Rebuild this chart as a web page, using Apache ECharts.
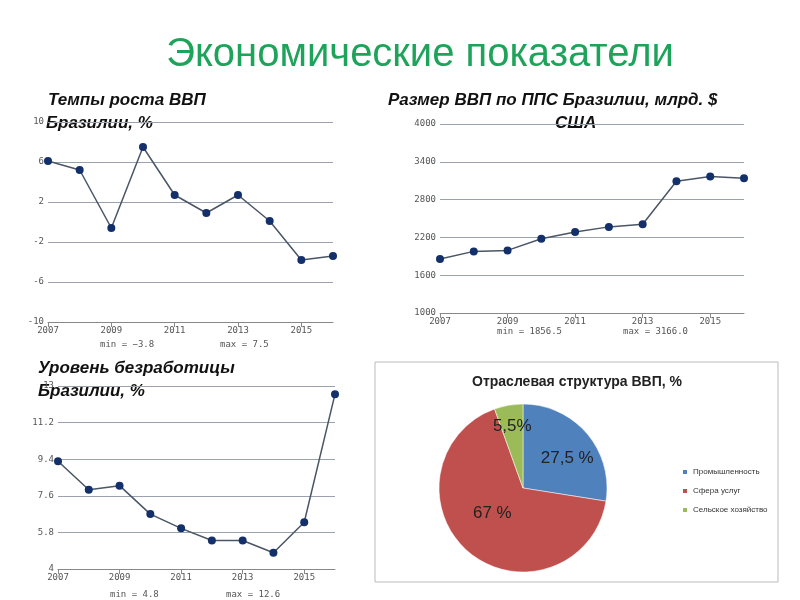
<!DOCTYPE html>
<html>
<head>
<meta charset="utf-8">
<script src="https://cdn.jsdelivr.net/npm/echarts@6/dist/echarts.min.js"></script>
<style>html,body{margin:0;background:#fff}#main{width:800px;height:600px}</style>
</head>
<body>
<div id="main"></div>
<script>
var chart = echarts.init(document.getElementById('main'));

// данные
var years = ['2007','2008','2009','2010','2011','2012','2013','2014','2015','2016'];
var gdpGrowth = [6.1, 5.2, -0.6, 7.5, 2.7, 0.9, 2.7, 0.1, -3.8, -3.4];
var gdpPpp = [1856.5, 1978, 1994, 2178, 2286, 2367, 2410, 3090, 3166, 3139];
var unemployment = [9.3, 7.9, 8.1, 6.7, 6.0, 5.4, 5.4, 4.8, 6.3, 12.6];
var pieNames = ['Промышленность', 'Сфера услуг', 'Сельское хозяйство'];
var pieValues = [27.5, 67, 5.5];
var pieLabels = ['27,5 %', '67 %', '5,5%'];

var mono = 'DejaVu Sans Mono';
var labelShift = [[10, 0], [-2, -9], [-3, -17]];

function xAx(idx) {
    return {
        type: 'category', gridIndex: idx, data: years, boundaryGap: false,
        axisLine: { onZero: false, lineStyle: { color: '#888' } },
        axisTick: { show: true, interval: 1, lineStyle: { color: '#888' } },
        axisLabel: { interval: 1, color: '#555', fontSize: 9, fontFamily: mono, margin: 4 }
    };
}
function yAx(idx, min, max, step) {
    return {
        type: 'value', gridIndex: idx, min: min, max: max, interval: step,
        axisLine: { show: false }, axisTick: { show: false },
        axisLabel: { color: '#555', fontSize: 9, fontFamily: mono, margin: 4,
            formatter: function (v) { return String(Math.round(v * 10) / 10); } },
        splitLine: { lineStyle: { color: '#9aa3ad', width: 1 } }
    };
}
function lineSeries(idx, data) {
    return {
        type: 'line', xAxisIndex: idx, yAxisIndex: idx, data: data,
        symbol: 'circle', symbolSize: 8,
        lineStyle: { color: '#4a5566', width: 1.5 },
        itemStyle: { color: '#13306a' }
    };
}
function txt(x, y, s, style) {
    return { type: 'text', left: x, top: y, style: Object.assign({ text: s }, style) };
}
var sub = { fontSize: 17, fontWeight: 'bold', fontStyle: 'italic', fontFamily: 'Liberation Sans', fill: '#111' };
var small = { fontSize: 9, fontFamily: mono, fill: '#555' };

option = {
    animation: false,
    grid: [
        { left: 48, width: 285, top: 122, height: 200 },
        { left: 440, width: 304, top: 124, height: 189 },
        { left: 58, width: 277, top: 386, height: 183 }
    ],
    xAxis: [xAx(0), xAx(1), xAx(2)],
    yAxis: [yAx(0, -10, 10, 4), yAx(1, 1000, 4000, 600), yAx(2, 4, 13, 1.8)],
    series: [
        lineSeries(0, gdpGrowth),
        lineSeries(1, gdpPpp),
        lineSeries(2, unemployment),
        {
            type: 'pie', center: [523, 488], radius: 84, startAngle: 90,
            data: pieNames.map(function (n, i) {
                return { name: n, value: pieValues[i], label: { offset: labelShift[i] } };
            }),
            color: ['#4f81bd', '#c0504d', '#9bbb59'],
            label: {
                position: 'inside', fontSize: 17, fontFamily: 'Liberation Sans', color: '#222',
                formatter: function (p) { return pieLabels[p.dataIndex]; }
            },
            itemStyle: { borderColor: '#fff', borderWidth: 0.5 }
        }
    ],
    legend: {
        left: 676, top: 463, orient: 'vertical', itemWidth: 6, itemHeight: 6, itemGap: 11,
        icon: 'rect', textStyle: { fontSize: 8, color: '#333' }, data: pieNames
    },
    graphic: [
        { type: 'rect', shape: { x: 375, y: 362, width: 403, height: 220 }, style: { fill: 'none', stroke: '#bbb', lineWidth: 1 } },
        { type: 'text', x: 420, y: 55, style: { text: 'Экономические показатели', fontSize: 40, fontFamily: 'Liberation Sans', fill: '#1ea35a', align: 'center', verticalAlign: 'middle' } },
        txt(48, 92, 'Темпы роста ВВП', sub),
        txt(46, 115, 'Бразилии, %', sub),
        txt(388, 92, 'Размер ВВП по ППС Бразилии, млрд. $', sub),
        txt(555, 115, 'США', sub),
        txt(38, 360, 'Уровень безработицы', sub),
        txt(38, 383, 'Бразилии, %', sub),
        txt(100, 340, 'min = −3.8', small),
        txt(220, 340, 'max = 7.5', small),
        txt(497, 327, 'min = 1856.5', small),
        txt(623, 327, 'max = 3166.0', small),
        txt(110, 590, 'min = 4.8', small),
        txt(226, 590, 'max = 12.6', small),
        { type: 'text', x: 577, y: 382, style: { text: 'Отраслевая структура ВВП, %', fontSize: 14, fontWeight: 'bold', fontFamily: 'Liberation Sans', fill: '#222', align: 'center', verticalAlign: 'middle' } }
    ]
};
chart.setOption(option);
</script>
</body>
</html>
